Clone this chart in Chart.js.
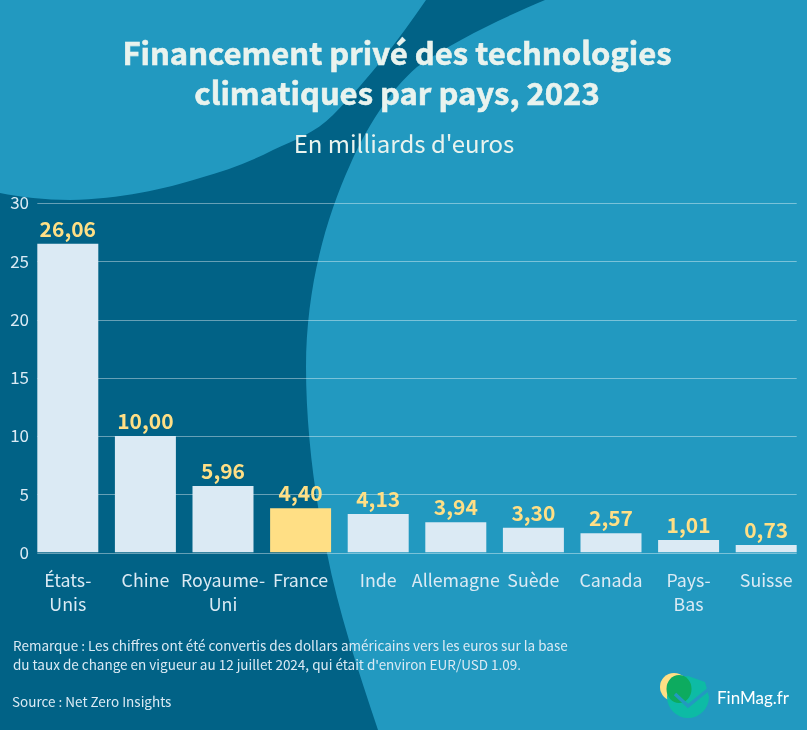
<!DOCTYPE html>
<html lang="fr">
<head>
<meta charset="utf-8">
<title>Financement privé des technologies climatiques</title>
<script src="https://cdn.jsdelivr.net/npm/chart.js@4/dist/chart.umd.min.js"></script>
<style>
  html,body{margin:0;padding:0;background:#2299c0;}
  #wrap{position:relative;width:807px;height:730px;overflow:hidden;font-family:"Noto Sans CJK SC","Noto Sans",sans-serif;}
  #bg,#c{position:absolute;left:0;top:0;}
  .t{position:absolute;white-space:nowrap;}
  #title{left:0;width:794px;top:32px;text-align:center;font-size:31px;font-weight:700;line-height:40px;color:#e9f3ee;-webkit-text-stroke:0.6px #e9f3ee;}
  #subtitle{left:0;width:808px;top:127px;text-align:center;font-size:24px;line-height:32px;color:#e9f3ee;}
  #note{left:13px;top:636px;font-size:13.5px;line-height:19px;color:#dbeaf4;}
  #source{left:12px;top:692px;font-size:13.5px;line-height:19px;color:#dbeaf4;}
  #brand{left:717px;top:685px;font-family:Lato,sans-serif;font-size:17px;line-height:26px;color:#fff;}
</style>
</head>
<body>
<div id="wrap">
  <svg id="bg" width="807" height="730" viewBox="0 0 807 730">
    <rect width="807" height="730" fill="#016286"/>
    <path d="M0,0 H426 C400,38 370,78 333,115 C315,133 295,140 273,150 C250,162 225,171 200,178 C165,189 120,199 70,200 C45,200 20,197 0,193 Z" fill="#2299c0"/>
    <path d="M545,0 C505,17 455,40 417,67 C390,90 365,130 350,165 C325,220 306,290 306,367 C306,430 315,500 327,553 C338,610 358,670 378,730 H807 V0 Z" fill="#2299c0"/>
    <circle cx="674" cy="687" r="14" fill="#ffdf85"/>
    <path d="M688,676 a21,21 0 1 0 21,21 l-4,-15 z" fill="#0dbba5"/>
    <ellipse cx="679" cy="689" rx="12.5" ry="14" fill="#0dab5f"/>
    <path d="M675,694 L688,706 L709,689" fill="none" stroke="#2299c0" stroke-width="3.5"/>
  </svg>
  <canvas id="c" width="807" height="730"></canvas>
  <div class="t" id="title">Financement privé des technologies<br>climatiques par pays, 2023</div>
  <div class="t" id="subtitle">En milliards d'euros</div>
  <div class="t" id="note">Remarque : Les chiffres ont été convertis des dollars américains vers les euros sur la base<br>du taux de change en vigueur au 12 juillet 2024, qui était d'environ EUR/USD 1.09.</div>
  <div class="t" id="source">Source : Net Zero Insights</div>
  <div class="t" id="brand">FinMag.fr</div>
</div>
<script>
  var FONT = '"Noto Sans CJK SC","Noto Sans",sans-serif';

  var countries = [['États-','Unis'],'Chine',['Royaume-','Uni'],'France','Inde','Allemagne','Suède','Canada',['Pays-','Bas'],'Suisse'];
  /* bar heights as drawn in the picture, they differ a bit from the printed labels */
  var barHeights = [26.5,10.0,5.71,3.8,3.3,2.6,2.13,1.65,1.07,0.64];
  var printedValues = ['26,06','10,00','5,96','4,40','4,13','3,94','3,30','2,57','1,01','0,73'];
  var yTicks = [0,5,10,15,20,25,30];
  var highlighted = 'France';

  var barColors = countries.map(function(c){ return c===highlighted ? '#ffdf85' : '#dbeaf4'; });

  /* grid only runs from first bar's left edge to last bar's right edge */
  var gridLines = {
    id:'gridLines',
    beforeDatasetsDraw:function(chart){
      var bars = chart.getDatasetMeta(0).data, y = chart.scales.y, ctx = chart.ctx;
      var x0 = bars[0].x-bars[0].width/2, x1 = bars[bars.length-1].x+bars[0].width/2;
      ctx.save();
      ctx.strokeStyle = 'rgba(255,255,255,0.4)';
      ctx.lineWidth = 1;
      yTicks.forEach(function(t){
        var py = Math.round(y.getPixelForValue(t))+0.5;
        ctx.beginPath(); ctx.moveTo(x0,py); ctx.lineTo(x1,py); ctx.stroke();
      });
      ctx.restore();
    }
  };

  var valueLabels = {
    id:'valueLabels',
    afterDatasetsDraw:function(chart){
      var ctx = chart.ctx;
      ctx.save();
      ctx.font = '700 21px '+FONT;
      ctx.fillStyle = '#ffdf85';
      ctx.textAlign = 'center';
      ctx.textBaseline = 'alphabetic';
      chart.getDatasetMeta(0).data.forEach(function(bar,i){
        ctx.fillText(printedValues[i],bar.x,bar.y-7);
      });
      ctx.restore();
    }
  };

  new Chart(document.getElementById('c'),{
    type:'bar',
    data:{
      labels:countries,
      datasets:[{data:barHeights,backgroundColor:barColors,borderWidth:0,barPercentage:1,categoryPercentage:0.786}]
    },
    options:{
      responsive:false,
      animation:false,
      layout:{padding:{left:0,right:2,top:203,bottom:0}},
      plugins:{legend:{display:false},tooltip:{enabled:false}},
      scales:{
        x:{
          grid:{display:false,drawTicks:false},border:{display:false},
          ticks:{color:'#dbeaf4',font:{family:FONT,size:17.8,lineHeight:1.33},padding:16,maxRotation:0,autoSkip:false},
          afterFit:function(s){s.height=177.5;s.paddingLeft=0;s.paddingRight=0;}
        },
        y:{
          min:0,max:30,
          grid:{display:false,drawTicks:false},border:{display:false},
          ticks:{color:'#dbeaf4',font:{family:FONT,size:17},padding:0,stepSize:5},
          afterFit:function(s){s.width=29;s.paddingTop=0;s.paddingBottom=0;}
        }
      }
    },
    plugins:[gridLines,valueLabels]
  });
</script>
</body>
</html>
